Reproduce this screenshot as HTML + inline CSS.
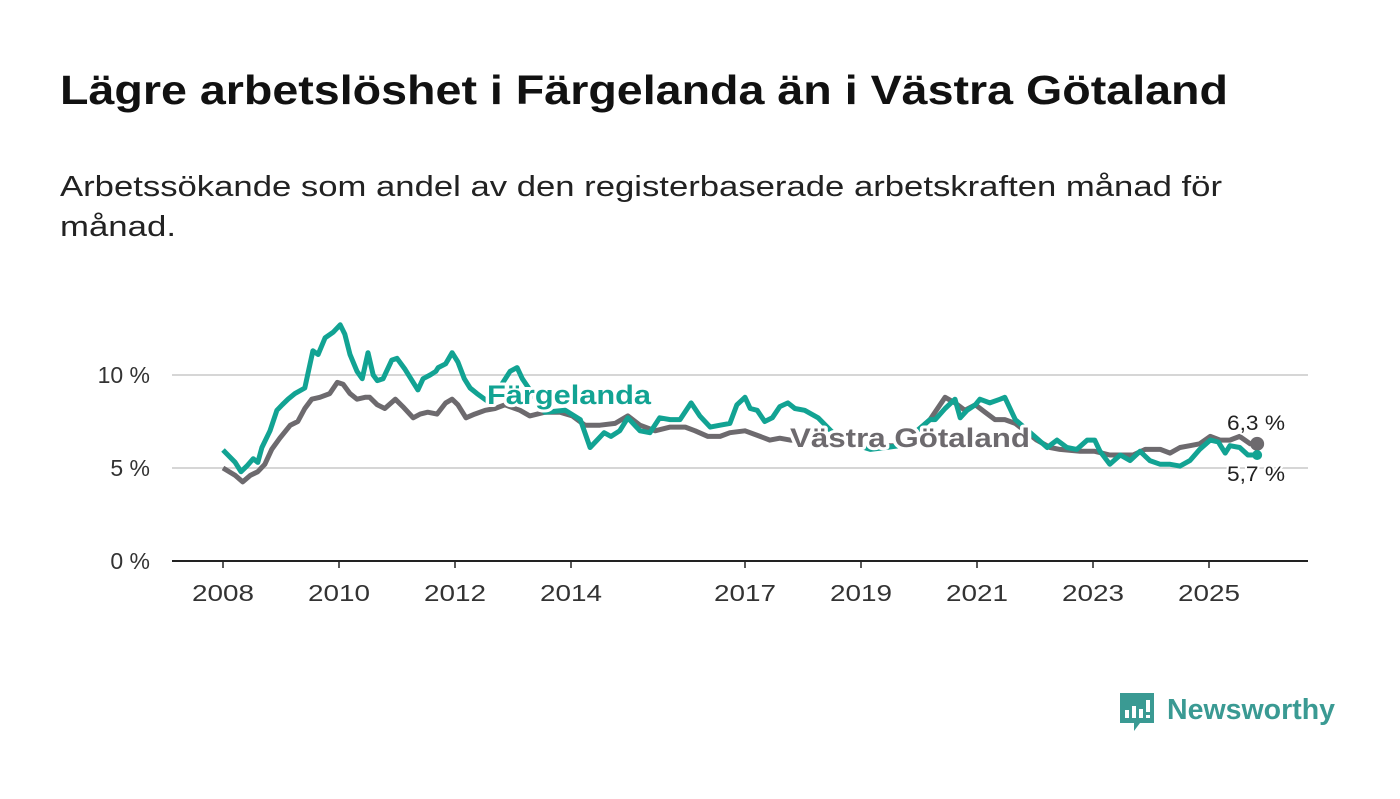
<!DOCTYPE html>
<html><head><meta charset="utf-8"><style>
body{margin:0;width:1400px;height:794px;background:#fff;font-family:"Liberation Sans",sans-serif;overflow:hidden}
</style></head><body>
<svg width="1400" height="794">
<text x="60" y="104" font-size="41" font-weight="bold" fill="#111" textLength="1168" lengthAdjust="spacingAndGlyphs">Lägre arbetslöshet i Färgelanda än i Västra Götaland</text>
<text x="60" y="196" font-size="29" fill="#222" textLength="1162" lengthAdjust="spacingAndGlyphs">Arbetssökande som andel av den registerbaserade arbetskraften månad för</text>
<text x="60" y="236" font-size="29" fill="#222" textLength="116" lengthAdjust="spacingAndGlyphs">månad.</text>
<g id="axes"></g>
<g id="series"></g>
<g id="labels"></g>
<g>
<path d="M1120 693h34v30h-14l-6 8v-8h-14z" fill="#3a9a93"/>
<rect x="1125" y="710" width="4" height="8" fill="#fff"/><rect x="1132" y="706" width="4" height="12" fill="#fff"/><rect x="1139" y="709" width="4" height="9" fill="#fff"/><rect x="1146" y="700" width="4" height="12" fill="#fff"/><rect x="1146" y="715" width="4" height="3" fill="#fff"/>
<text x="1167" y="719" font-size="29" font-weight="bold" fill="#3a9a93" textLength="168" lengthAdjust="spacingAndGlyphs">Newsworthy</text>
</g>
</svg>
<script>
const yTicks=[0,5,10];
const xTickYears=[2008,2010,2012,2014,2017,2019,2021,2023,2025];
const fYears=[2008.00,2008.21,2008.31,2008.41,2008.52,2008.60,2008.67,2008.81,2008.93,2009.02,2009.12,2009.24,2009.41,2009.55,2009.64,2009.76,2009.90,2010.02,2010.10,2010.19,2010.31,2010.40,2010.50,2010.59,2010.66,2010.76,2010.91,2011.00,2011.14,2011.28,2011.36,2011.45,2011.57,2011.67,2011.71,2011.84,2011.95,2012.05,2012.16,2012.26,2012.38,2012.60,2012.95,2013.07,2013.16,2013.55,2013.90,2014.16,2014.33,2014.45,2014.57,2014.69,2014.84,2014.98,2015.19,2015.36,2015.53,2015.71,2015.88,2016.07,2016.22,2016.40,2016.57,2016.74,2016.86,2017.00,2017.09,2017.21,2017.34,2017.47,2017.60,2017.74,2017.86,2018.03,2018.26,2018.64,2019.16,2019.67,2020.19,2020.28,2020.45,2020.62,2020.71,2020.83,2020.97,2021.05,2021.22,2021.40,2021.48,2021.66,2022.03,2022.21,2022.38,2022.55,2022.72,2022.90,2023.03,2023.12,2023.29,2023.47,2023.64,2023.81,2023.98,2024.16,2024.33,2024.50,2024.67,2024.84,2025.02,2025.16,2025.28,2025.36,2025.53,2025.67,2025.83];
const fValues=[5.97,5.3,4.8,5.1,5.5,5.3,6.1,7.0,8.1,8.4,8.7,9.0,9.3,11.3,11.1,12.0,12.3,12.7,12.2,11.1,10.2,9.8,11.2,10.0,9.7,9.8,10.8,10.9,10.3,9.6,9.2,9.8,10.0,10.2,10.4,10.6,11.2,10.7,9.8,9.3,9.0,8.5,10.2,10.4,9.8,8.0,8.1,7.6,6.1,6.5,6.9,6.7,7.0,7.7,7.0,6.9,7.7,7.6,7.6,8.5,7.8,7.2,7.3,7.4,8.4,8.8,8.2,8.1,7.5,7.7,8.3,8.5,8.2,8.1,7.7,6.5,6.0,6.2,7.6,7.6,8.2,8.7,7.7,8.1,8.4,8.7,8.5,8.7,8.8,7.6,6.6,6.1,6.5,6.1,6.0,6.5,6.5,5.9,5.2,5.7,5.4,5.9,5.4,5.2,5.2,5.1,5.4,6.0,6.5,6.4,5.8,6.2,6.1,5.7,5.7];
const vYears=[2008.00,2008.21,2008.34,2008.47,2008.60,2008.72,2008.84,2008.98,2009.16,2009.29,2009.41,2009.53,2009.67,2009.84,2009.97,2010.07,2010.19,2010.31,2010.45,2010.53,2010.66,2010.79,2010.97,2011.10,2011.28,2011.40,2011.53,2011.69,2011.84,2011.95,2012.05,2012.19,2012.34,2012.52,2012.69,2012.86,2013.12,2013.29,2013.55,2013.81,2014.02,2014.24,2014.50,2014.76,2014.98,2015.19,2015.45,2015.71,2015.97,2016.14,2016.36,2016.57,2016.74,2017.00,2017.26,2017.43,2017.60,2017.78,2018.29,2018.98,2019.67,2020.19,2020.45,2020.62,2020.79,2020.97,2021.14,2021.31,2021.48,2021.66,2022.03,2022.26,2022.43,2022.78,2023.03,2023.29,2023.47,2023.69,2023.90,2024.16,2024.33,2024.50,2024.67,2024.84,2025.02,2025.19,2025.36,2025.53,2025.71,2025.83];
const vValues=[5.0,4.6,4.25,4.6,4.8,5.2,6.0,6.6,7.3,7.5,8.2,8.7,8.8,9.0,9.6,9.5,9.0,8.7,8.8,8.8,8.4,8.2,8.7,8.3,7.7,7.9,8.0,7.9,8.5,8.7,8.4,7.7,7.9,8.1,8.2,8.4,8.1,7.8,8.0,8.0,7.8,7.3,7.3,7.4,7.8,7.3,7.0,7.2,7.2,7.0,6.7,6.7,6.9,7.0,6.7,6.5,6.6,6.5,6.5,6.2,6.2,7.6,8.8,8.5,8.1,8.4,8.0,7.6,7.6,7.4,6.5,6.1,6.0,5.9,5.9,5.7,5.7,5.7,6.0,6.0,5.8,6.1,6.2,6.3,6.7,6.5,6.5,6.7,6.3,6.3];
const NS='http://www.w3.org/2000/svg';
const xS=y=>223+(y-2008)*58;
const yS=v=>561-v*18.6;
function mk(tag,attrs,parent){const e=document.createElementNS(NS,tag);for(const k in attrs)e.setAttribute(k,attrs[k]);parent.appendChild(e);return e;}
const ax=document.getElementById('axes'),se=document.getElementById('series'),lb=document.getElementById('labels');
yTicks.forEach(t=>{
 const l=mk('line',{x1:172,x2:1308,y1:yS(t),y2:yS(t),stroke:t===0?'#222':'#d6d6d6','stroke-width':2},ax);
 
 
 const tx=mk('text',{x:150,y:yS(t)+8,'font-size':23,'text-anchor':'end',fill:'#333'},ax);
 tx.textContent=t+' %';
 
 
});
xTickYears.forEach(yr=>{
 const l=mk('line',{x1:xS(yr),x2:xS(yr),y1:561,y2:568,stroke:'#222','stroke-width':1.5},ax);
 
 
 const tx=mk('text',{x:xS(yr),y:601,'font-size':23,'text-anchor':'middle',fill:'#333',textLength:62,lengthAdjust:'spacingAndGlyphs'},ax);
 tx.textContent=yr;
 
 
});
function line(years,vals,color,name){
 const d=years.map((y,i)=>(i?'L':'M')+xS(y).toFixed(1)+' '+yS(vals[i]).toFixed(1)).join('');
 const p=mk('path',{d:d,fill:'none',stroke:color,'stroke-width':5,'stroke-linejoin':'round'},se);
 
 
}
line(vYears,vValues,'#6d6a6e','vastra-gotaland-line');
line(fYears,fValues,'#12a393','fargelanda-line');
const fl=fYears.length-1,vl=vYears.length-1;
const d1=mk('circle',{cx:xS(vYears[vl]),cy:yS(vValues[vl]),r:7,fill:'#6d6a6e'},se);


const d2=mk('circle',{cx:xS(fYears[fl]),cy:yS(fValues[fl]),r:5,fill:'#12a393'},se);


function lab(x,y,txt,color,name,size,bold,len){
 const t=mk('text',{x:x,y:y,'font-size':size,'font-weight':bold?'bold':'normal',fill:color,stroke:'#fff','stroke-width':bold?6:4,'paint-order':'stroke','stroke-linejoin':'round',textLength:len,lengthAdjust:'spacingAndGlyphs'},lb);
 t.textContent=txt;
 
 
}
lab(487,404,'Färgelanda','#12a393','fargelanda-label',27,true,164);
lab(790,447,'Västra Götaland','#6d6a6e','vastra-gotaland-label',27,true,240);
lab(1227,430,'6,3 %','#222','vastra-gotaland-end-value',21,false,58);
lab(1227,481,'5,7 %','#222','fargelanda-end-value',21,false,58);
</script>
</body></html>
